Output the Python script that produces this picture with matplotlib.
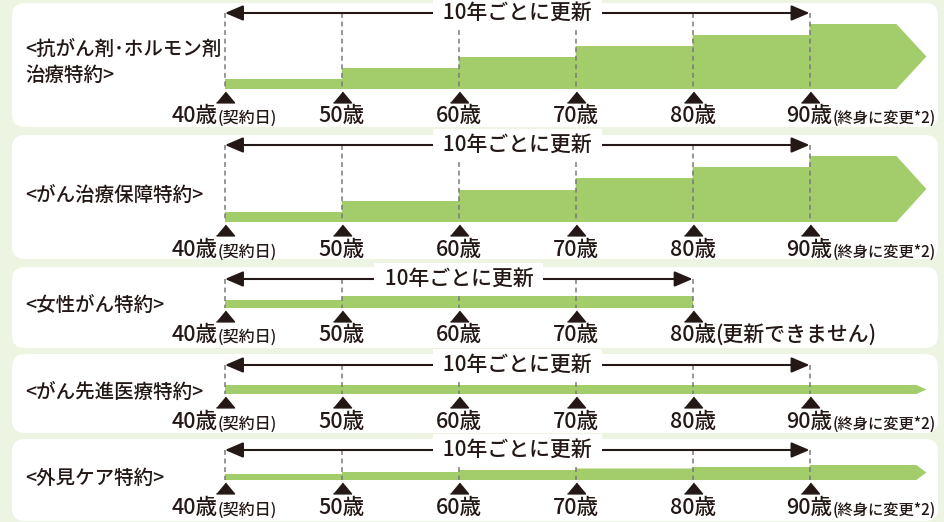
import matplotlib
matplotlib.use("Agg")
import matplotlib.pyplot as plt
from matplotlib.patches import FancyBboxPatch

plt.rcParams["font.family"] = ["Noto Sans CJK JP", "DejaVu Sans"]
plt.rcParams["font.weight"] = "medium"

# ---- data ----
titles = ["<抗がん剤･ホルモン剤\n治療特約>", "<がん治療保障特約>", "<女性がん特約>",
          "<がん先進医療特約>", "<外見ケア特約>"]
step_ages = [40, 50, 60, 70, 80, 90]
josei_ages = [40, 50, 60, 70]
ganzai_levels = [10, 21, 32, 43, 54, 65]
chiryo_levels = [10, 21, 32, 44, 55, 66]
josei_levels = [8, 12, 12, 12]
senshin_levels = [9, 9, 9, 9, 9, 9]
gaiken_levels = [6, 8, 10, 11.5, 13, 15]
renew_end = [90, 90, 80, 90, 90]
cover_end = [100, 100, 80, 100, 100]      # 100 = lifelong (arrow tip)
ticks_long = [40, 50, 60, 70, 80, 90]
ticks_josei = [40, 50, 60, 70, 80]
renew_text = "10年ごとに更新"
start_note = "(契約日)"
end_notes = ["(終身に変更*2)", "(終身に変更*2)", "(更新できません)",
             "(終身に変更*2)", "(終身に変更*2)"]

series = [
    (step_ages, ganzai_levels, ticks_long),
    (step_ages, chiryo_levels, ticks_long),
    (josei_ages, josei_levels, ticks_josei),
    (step_ages, senshin_levels, ticks_long),
    (step_ages, gaiken_levels, ticks_long),
]

# ---- layout (pixels) ----
W, H = 945, 522
PX_PER_YEAR = 11.69
X40 = 225
INK = "#231815"
GREEN = "#a3cc6a"
BG = "#edf4e2"
DASH = "#7a7a7a"

panels = [  # top, bottom, arrow_y, bar base, triangle y, tick label y, title y, tip px, note size
    dict(top=3, bot=127, arrow=13, base=89, tri=97, lab=116, title=62, tip=30, note=11),
    dict(top=135, bot=259, arrow=145, base=222, tri=229.5, lab=250, title=195, tip=30, note=11),
    dict(top=267, bot=348, arrow=279, base=308, tri=316, lab=335, title=305, tip=0, note=15),
    dict(top=354, bot=433, arrow=365, base=394, tri=402, lab=422, title=392, tip=10, note=11),
    dict(top=439, bot=521, arrow=450, base=480, tri=488, lab=508, title=478, tip=10, note=11),
]

fig = plt.figure(figsize=(W / 100, H / 100), dpi=100)
fig.patch.set_facecolor(BG)

bg = fig.add_axes([0, 0, 1, 1])
bg.set_xlim(0, W)
bg.set_ylim(H, 0)
bg.axis("off")

ax = fig.add_axes([0, 0, 1, 1])
ax.set_xlim(40 - X40 / PX_PER_YEAR, 40 + (W - X40) / PX_PER_YEAR)
ax.set_ylim(H, 0)
ax.patch.set_alpha(0)
ax.axis("off")

tri = [(-1, -0.6), (1, -0.6), (0, 0.6)]

for i, p in enumerate(panels):
    bg.add_patch(FancyBboxPatch((12, p["top"]), 926, p["bot"] - p["top"],
                                boxstyle="round,pad=0,rounding_size=13",
                                fc="white", ec="none"))
    bg.text(25, p["title"], titles[i], ha="left", va="center", fontsize=14,
            color=INK, linespacing=1.45)

    ages, levels, ticks = series[i]
    base = p["base"]
    end = cover_end[i]
    # step-shaped bar (with arrow tip when lifelong)
    xs, ys = [ages[0]], [base]
    for k, (a, h) in enumerate(zip(ages, levels)):
        nxt = ages[k + 1] if k + 1 < len(ages) else end
        xs += [a, nxt]
        ys += [base - h, base - h]
    if p["tip"]:
        tip = p["tip"] / PX_PER_YEAR
        xs[-1] = end - tip
        xs += [end, end - tip]
        ys += [base - levels[-1] / 2, base]
    else:
        xs += [end]
        ys += [base]
    ax.fill(xs, ys, color=GREEN, lw=0, zorder=2)

    # renewal guides
    ax.vlines(ticks, p["arrow"], base, colors=DASH, lw=1.1,
              linestyles=(0, (3.2, 2.4)), zorder=3)
    ax.annotate("", xy=(renew_end[i], p["arrow"]), xytext=(40, p["arrow"]),
                arrowprops=dict(arrowstyle="<|-|>,head_length=1.1,head_width=0.47",
                                mutation_scale=10, lw=1.5, color=INK,
                                shrinkA=0, shrinkB=0), zorder=4)
    ax.text((40 + renew_end[i]) / 2, p["arrow"], " " + renew_text + " ", ha="center",
            va="center", fontsize=15, color=INK, zorder=5,
            bbox=dict(boxstyle="square,pad=0.25", fc="white", ec="none"))

    # age markers
    ax.plot(ticks, [p["tri"]] * len(ticks), ls="none", marker=tri, ms=13,
            color=INK, zorder=4)
    for a in ticks:
        dx = -30 if a == ticks[0] else 0
        t = ax.annotate(f"{a}歳", xy=(a, p["lab"]), xytext=(dx, 0),
                        textcoords="offset pixels", ha="center", va="center",
                        fontsize=15.5, color=INK)
        note = start_note if a == ticks[0] else (end_notes[i] if a == ticks[-1] else None)
        if note:
            size = 11.5 if a == ticks[0] else p["note"]
            ax.annotate(note, xy=(1, 0), xycoords=t, ha="left", va="bottom",
                        fontsize=size, color=INK)

fig.savefig("out.png", dpi=100, facecolor=BG)
